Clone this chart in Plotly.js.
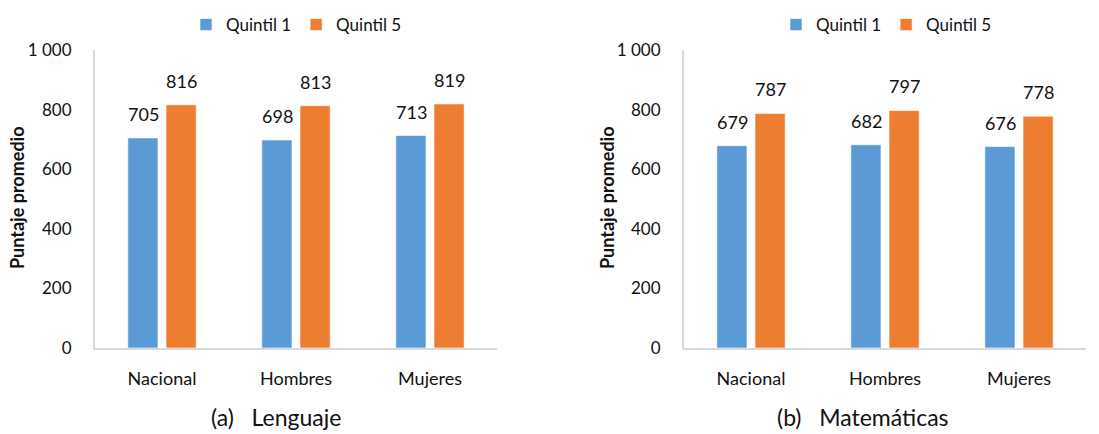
<!DOCTYPE html>
<html>
<head>
<meta charset="utf-8">
<script src="https://cdn.plot.ly/plotly-3.0.1.min.js"></script>
<style>
  html, body { margin: 0; padding: 0; background: #fff; }
  #chart { width: 1099px; height: 434px; }
</style>
</head>
<body>
<div id="chart"></div>
<script>
// Puntaje promedio por quintil socioeconómico
const categories = ['Nacional', 'Hombres', 'Mujeres'];
const seriesNames = ['Quintil 1', 'Quintil 5'];
const lenguajeQ1 = [705, 698, 713];
const lenguajeQ5 = [816, 813, 819];
const matematicasQ1 = [679, 682, 676];
const matematicasQ5 = [787, 797, 778];
const yTickVals = [0, 200, 400, 600, 800, 1000];
const yTickText = ['0', '200', '400', '600', '800', '1 000'];
const panelCaptions = ['(a)\u00a0\u00a0\u00a0Lenguaje', '(b)\u00a0\u00a0\u00a0Matemáticas'];
const yTitle = 'Puntaje promedio';

const BLUE = '#5B9BD5';
const ORANGE = '#ED7D31';
const FONT = 'Lato, "Open Sans", sans-serif';

function barTrace(name, values, color, xa, ya, legend) {
  return {
    type: 'bar', name: name, x: categories, y: values,
    xaxis: xa, yaxis: ya, legend: legend,
    marker: { color: color, line: { color: 'rgba(255,255,255,0.6)', width: 1 } },
    hoverinfo: 'skip'
  };
}

const data = [
  barTrace(seriesNames[0], lenguajeQ1, BLUE, 'x', 'y', 'legend'),
  barTrace(seriesNames[1], lenguajeQ5, ORANGE, 'x', 'y', 'legend'),
  barTrace(seriesNames[0], matematicasQ1, BLUE, 'x2', 'y2', 'legend2'),
  barTrace(seriesNames[1], matematicasQ5, ORANGE, 'x2', 'y2', 'legend2')
];

// value labels above each bar
const annotations = [];
function addLabels(values, xa, ya, shift) {
  values.forEach((v, i) => {
    annotations.push({
      xref: xa, yref: ya, x: categories[i], y: v,
      text: String(v), showarrow: false,
      xshift: shift, yshift: 24, yanchor: 'middle',
      font: { family: FONT, size: 18, color: '#111' }
    });
  });
}
addLabels(lenguajeQ1, 'x', 'y', -19);
addLabels(lenguajeQ5, 'x', 'y', 19);
addLabels(matematicasQ1, 'x2', 'y2', -19);
addLabels(matematicasQ5, 'x2', 'y2', 19);

// axis titles and panel captions
[17, 607].forEach(px => {
  annotations.push({
    xref: 'paper', yref: 'paper', x: px / 1099, y: (434 - 198) / 434,
    text: '<b>' + yTitle + '</b>', textangle: -90, showarrow: false,
    xanchor: 'center', yanchor: 'middle',
    font: { family: FONT, size: 18, color: '#111' }
  });
});
[[276, 0], [863, 1]].forEach(([px, k]) => {
  annotations.push({
    xref: 'paper', yref: 'paper', x: px / 1099, y: (434 - 417) / 434,
    text: panelCaptions[k], showarrow: false,
    xanchor: 'center', yanchor: 'middle',
    font: { family: FONT, size: 23, color: '#111' }
  });
});

const xAxisBase = {
  type: 'category', showline: true, linecolor: '#D9D9D9', linewidth: 2,
  showgrid: false, zeroline: false, ticks: '', ticklabelstandoff: 13,
  tickfont: { family: FONT, size: 18, color: '#111' }, fixedrange: true
};
const yAxisBase = {
  range: [0, 1000], tickvals: yTickVals, ticktext: yTickText,
  showline: true, linecolor: '#D9D9D9', linewidth: 2,
  showgrid: false, zeroline: false, ticks: '', ticklabelstandoff: 18,
  tickfont: { family: FONT, size: 17, color: '#111' }, fixedrange: true
};

const yDomain = [(434 - 348) / 434, (434 - 50) / 434];

const layout = {
  width: 1099, height: 434,
  margin: { l: 0, r: 0, t: 0, b: 0 },
  paper_bgcolor: '#fff', plot_bgcolor: '#fff',
  font: { family: FONT, color: '#111' },
  barmode: 'group', bargap: 0.43, bargroupgap: 0.21,
  xaxis: Object.assign({}, xAxisBase, { domain: [95 / 1099, 497 / 1099], anchor: 'y' }),
  yaxis: Object.assign({}, yAxisBase, { domain: yDomain, anchor: 'x' }),
  xaxis2: Object.assign({}, xAxisBase, { domain: [684 / 1099, 1086 / 1099], anchor: 'y2' }),
  yaxis2: Object.assign({}, yAxisBase, { domain: yDomain, anchor: 'x2' }),
  legend: {
    orientation: 'h', x: 186 / 1099, y: (434 - 25) / 434,
    xanchor: 'left', yanchor: 'middle', bgcolor: 'rgba(0,0,0,0)',
    font: { family: FONT, size: 17, color: '#111' }, itemwidth: 30, traceorder: 'normal'
  },
  legend2: {
    orientation: 'h', x: 776 / 1099, y: (434 - 25) / 434,
    xanchor: 'left', yanchor: 'middle', bgcolor: 'rgba(0,0,0,0)',
    font: { family: FONT, size: 17, color: '#111' }, itemwidth: 30, traceorder: 'normal'
  },
  annotations: annotations,
  showlegend: true
};

Plotly.newPlot('chart', data, layout, { displayModeBar: false, staticPlot: true });
</script>
</body>
</html>
